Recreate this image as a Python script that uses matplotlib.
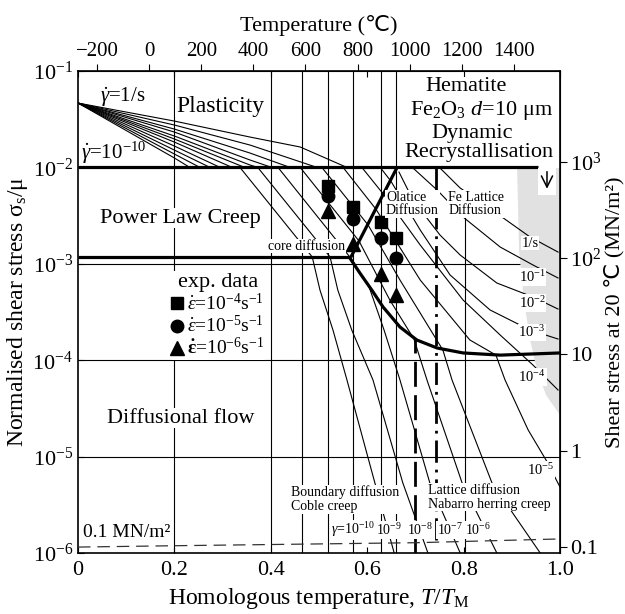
import numpy as np
import matplotlib.pyplot as plt
from matplotlib.lines import Line2D
from matplotlib.patches import Polygon, Rectangle
from matplotlib.ticker import NullLocator

plt.rcParams['font.family'] = ['Liberation Serif', 'DejaVu Sans', 'Noto Sans CJK SC']
plt.rcParams['mathtext.fontset'] = 'custom'
plt.rcParams['mathtext.rm'] = 'Liberation Serif'
plt.rcParams['mathtext.it'] = 'Liberation Serif:italic'
plt.rcParams['mathtext.bf'] = 'Liberation Serif:bold'

T_MELT = 1850.0   # K
MU_20C = 8.7e4    # MN/m^2, shear modulus at 20 C (right axis)

# ---- strain-rate contours: x = T/TM, values = log10(sigma_s/mu) ----
# plasticity fan, gamma_dot = 1e-10 ... 1/s (bottom to top)
fan_start = (0.0, -1.332)
fan_mid_x = 0.2
fan_mid_log = [-1.902, -1.861, -1.820, -1.778, -1.737, -1.705, -1.674, -1.633, -1.602, -1.560, -1.519]
fan_x2 = 0.357
fan_x2_log = [None, None, None, None, None, None, -1.975, -1.923, -1.851, -1.768, -1.685]
fan_x3 = 0.461
fan_x3_log = [None] * 10 + [-1.788]
fan_end_x = [0.232, 0.253, 0.274, 0.295, 0.320, 0.346, 0.373, 0.402, 0.440, 0.496, 0.558]

# power law creep / diffusional flow part of each contour
rate_x = {
    '1e-10': [0.336, 0.486, 0.502, 0.529, 0.558, 0.616, 0.656],
    '1e-9': [0.373, 0.523, 0.539, 0.568, 0.612, 0.674, 0.726],
    '1e-8': [0.415, 0.564, 0.604, 0.635, 0.668, 0.730, 0.793],
    '1e-7': [0.461, 0.583, 0.647, 0.697, 0.724, 0.797, 0.869],
    '1e-6': [0.506, 0.602, 0.668, 0.757, 0.776, 0.859, 0.959],
    '1e-5': [0.550, 0.618, 0.710, 0.813, 0.867, 0.886, 0.934, 0.971, 1.0],
    '1e-4': [0.589, 0.635, 0.710, 0.799, 0.876, 0.944, 0.996],
    '1e-3': [0.627, 0.649, 0.710, 0.772, 0.855, 0.938, 0.996],
    '1e-2': [0.666, 0.695, 0.751, 0.793, 0.869, 0.944, 0.996],
    '1e-1': [0.695, 0.745, 0.799, 0.876, 0.944, 0.996],
    '1': [0.751, 0.793, 0.865, 0.938, 0.996],
}
rate_log = {
    '1e-10': [-2.0, -2.929, -3.272, -3.687, -4.205, -5.274, -6.0],
    '1e-9': [-2.0, -2.929, -3.272, -3.687, -4.205, -5.274, -6.0],
    '1e-8': [-2.0, -2.929, -3.241, -3.687, -4.205, -5.274, -6.0],
    '1e-7': [-2.0, -2.763, -3.376, -3.780, -4.205, -5.274, -6.0],
    '1e-6': [-2.0, -2.598, -3.168, -3.894, -4.205, -5.274, -6.0],
    '1e-5': [-2.0, -2.432, -3.168, -3.790, -3.946, -4.205, -4.724, -5.035, -5.315],
    '1e-4': [-2.0, -2.286, -2.805, -3.376, -3.739, -4.050, -4.309],
    '1e-3': [-2.0, -2.141, -2.649, -3.116, -3.479, -3.687, -3.780],
    '1e-2': [-2.048, -2.338, -2.701, -2.909, -3.199, -3.344, -3.469],
    '1e-1': [-2.006, -2.234, -2.515, -2.826, -3.012, -3.147],
    '1': [-2.006, -2.214, -2.463, -2.722, -2.878],
}
right_labels = ['1/s', '10$^{-1}$', '10$^{-2}$', '10$^{-3}$', '10$^{-4}$', '10$^{-5}$']
right_label_pos = [(0.938, 0.643), (0.942, 0.573), (0.942, 0.519),
                   (0.942, 0.458), (0.942, 0.365), (0.959, 0.172)]
bottom_labels = [r'$\gamma$=10$^{-10}$', '10$^{-9}$', '10$^{-8}$', '10$^{-7}$', '10$^{-6}$']
bottom_label_x = [0.571, 0.645, 0.710, 0.772, 0.830]

# field boundaries
plast_level = 1e-2
plast_end = 0.954
core_level = 1.17e-3
kink_x = 0.566
diag_x = [0.566, 0.662]
diag_y = [1.17e-3, 1e-2]
diff_x = [0.564, 0.585, 0.610, 0.633, 0.668, 0.703, 0.745, 0.799, 0.876, 1.0]
diff_y = [1.15e-3, 8.0e-4, 5.3e-4, 3.56e-4, 2.21e-4, 1.62e-4, 1.34e-4, 1.19e-4, 1.13e-4, 1.19e-4]
coble_nh_x = 0.700
coble_nh_top = 1.62e-4
fe_o_x = 0.743
fe_o_bottom = 1.36e-6

# 0.1 MN/m^2 line
low_x = [0.0, 0.197, 0.703, 1.0]
low_y = [1.153e-6, 1.19e-6, 1.28e-6, 1.40e-6]

# shaded dynamic recrystallisation band
dyn_x = [0.911, 0.915, 0.925, 0.938, 0.952, 0.971, 1.0, 1.0]
dyn_y = [9.86e-3, 1.39e-3, 4.21e-4, 1.62e-4, 7.91e-5, 4.35e-5, 2.70e-5, 9.86e-3]

# grid
vlines_full = [0.2, 0.4, 0.465, 0.519, 0.571, 0.629, 0.660]
vline_part = (0.803, 3.05e-3)
hlines = [1e-3, 1e-4, 1e-5]

# experimental data
exp_x = [0.519, 0.571, 0.629, 0.660]
exp_sq = [6.41e-3, 3.88e-3, 2.72e-3, 1.85e-3]
exp_ci = [5.05e-3, 2.92e-3, 1.85e-3, 1.15e-3]
exp_tr = [3.53e-3, 1.60e-3, 7.83e-4, 4.74e-4]

fig = plt.figure(figsize=(6.25, 6.14), dpi=100)
ax = fig.add_axes([0.1248, 0.0993, 0.7712, 0.785])
ax.set_yscale('log')
ax.set_xlim(0, 1)
ax.set_ylim(1e-6, 1e-1)

thin = dict(color='black', lw=0.8)
for x in vlines_full:
    ax.axvline(x, zorder=1, **thin)
ax.plot([vline_part[0]] * 2, [1e-6, vline_part[1]], zorder=1, **thin)
for y in hlines:
    ax.axhline(y, zorder=1, **thin)

ax.add_patch(Polygon(np.column_stack([dyn_x, dyn_y]), closed=True,
                     facecolor='#e1e1e1', edgecolor='none', zorder=1.5))

# contours
for k in range(len(fan_end_x)):
    xs = [fan_start[0], fan_mid_x]
    ls = [fan_start[1], fan_mid_log[k]]
    if fan_x2_log[k] is not None:
        xs.append(fan_x2)
        ls.append(fan_x2_log[k])
    if fan_x3_log[k] is not None:
        xs.append(fan_x3)
        ls.append(fan_x3_log[k])
    xs.append(fan_end_x[k])
    ls.append(-2.0)
    ax.plot(xs, 10.0 ** np.array(ls), zorder=2, **thin)
for key in rate_x:
    ax.plot(rate_x[key], 10.0 ** np.array(rate_log[key]), zorder=2, **thin)

# boundaries
thick = dict(color='black', lw=2.3, solid_capstyle='butt')
ax.plot([0, plast_end], [plast_level] * 2, zorder=3, **thick)
ax.plot([0, kink_x], [core_level] * 2, zorder=3, **thick)
ax.plot(diag_x, diag_y, zorder=3, **thick)
ax.plot(diff_x, diff_y, zorder=3, **thick)
ax.plot([coble_nh_x] * 2, [1e-6, coble_nh_top], color='black', lw=2.0,
        dashes=(9, 3), zorder=3)
ax.plot([fe_o_x] * 2, [fe_o_bottom, plast_level], color='black', lw=2.0,
        dashes=(8, 2.5, 1, 2.5), zorder=3)
ax.plot(low_x, low_y, color='#333333', lw=0.9, dashes=(10, 5.5), zorder=3)

# experimental points
mk = dict(color='black', ls='none', zorder=4)
ax.plot(exp_x, exp_sq, marker='s', ms=8, **mk)
ax.plot(exp_x, exp_ci, marker='o', ms=9, **mk)
ax.plot(exp_x, exp_tr, marker='^', ms=10, **mk)

handles = [Line2D([], [], marker='s', ms=8, **mk),
           Line2D([], [], marker='o', ms=9, **mk),
           Line2D([], [], marker='^', ms=10, **mk)]
labels = [r'$\dot{\varepsilon}$=10$^{-4}$s$^{-1}$',
          r'$\dot{\varepsilon}$=10$^{-5}$s$^{-1}$',
          r'$\mathbf{\dot{\varepsilon}}$=10$^{-6}$s$^{-1}$']
leg = ax.legend(handles, labels, title='exp. data', loc='upper left',
                bbox_to_anchor=(0.19, 0.585), frameon=True, fontsize=14,
                title_fontsize=16, handlelength=0.6, handletextpad=0.2,
                borderpad=0.1, labelspacing=0.05, borderaxespad=0)
leg.get_frame().set_facecolor('white')
leg.get_frame().set_edgecolor('none')
leg.get_frame().set_alpha(1)
leg.set_zorder(5)

# texts
wb = dict(facecolor='white', edgecolor='none', pad=0.5)
def label(x, y, s, size, ha='center', box=True, **kw):
    ax.text(x, y, s, transform=ax.transAxes, ha=ha, va='center', fontsize=size,
            bbox=wb if box else None, zorder=6, **kw)

label(0.093, 0.946, r'$\dot{\gamma}$=1/s', 15, box=False)
label(0.073, 0.830, r'$\dot{\gamma}$=10$^{-10}$', 15, box=False)
label(0.295, 0.927, 'Plasticity', 17)
label(0.212, 0.695, 'Power Law Creep', 16)
label(0.475, 0.637, 'core diffusion', 10)
label(0.214, 0.280, 'Diffusional flow', 16)
label(0.010, 0.043, '0.1 MN/m²', 14, ha='left', box=False)
label(0.442, 0.111, 'Boundary diffusion\nCoble creep', 10, ha='left', linespacing=1.1)
label(0.726, 0.116, 'Lattice diffusion\nNabarro herring creep', 10, ha='left', linespacing=1.1)
for fx, s in zip(bottom_label_x, bottom_labels):
    label(fx, 0.048, s, 10)
label(0.805, 0.967, 'Hematite', 16)
label(0.838, 0.919, r'Fe$_2$O$_3$ $d$=10 μm', 16)
label(0.817, 0.871, 'Dynamic', 16)
label(0.832, 0.830, 'Recrystallisation', 16)
label(0.639, 0.724, 'Olatice\nDiffusion', 10, ha='left', linespacing=1.0)
label(0.768, 0.724, 'Fe Lattice\nDiffusion', 10, ha='left', linespacing=1.0)
for (fx, fy), s in zip(right_label_pos, right_labels):
    label(fx, fy, s, 10.5)

ax.add_patch(Rectangle((0.955, 0.742), 0.036, 0.056, transform=ax.transAxes,
                       facecolor='white', edgecolor='none', zorder=5))
ax.annotate('', xy=(0.973, 0.750), xytext=(0.973, 0.797), xycoords='axes fraction',
            arrowprops=dict(arrowstyle='->', lw=1.1, color='black',
                            mutation_scale=20), zorder=6)

# axes and scales
for sp in ax.spines.values():
    sp.set_linewidth(1.2)
ax.set_xticks([0, 0.2, 0.4, 0.6, 0.8, 1.0])
ax.set_xticklabels(['0', '0.2', '0.4', '0.6', '0.8', '1.0'])
ax.tick_params(axis='x', direction='in', length=4, labelsize=16, top=True, pad=6)
ax.tick_params(axis='y', direction='in', length=4, labelsize=16, which='major')
ax.yaxis.set_minor_locator(NullLocator())
ax.set_xlabel('Homologous temperature, $T/T_{\\rm M}$', fontsize=17, labelpad=4)
ax.set_ylabel('Normalised shear stress σ$_{\\rm s}$/μ', fontsize=17, labelpad=2)

top = ax.secondary_xaxis('top', functions=(lambda h: h * T_MELT - 273.15,
                                           lambda c: (c + 273.15) / T_MELT))
top.set_xticks([-200, 0, 200, 400, 600, 800, 1000, 1200, 1400])
top.tick_params(direction='out', length=5, labelsize=15, pad=2)
top.set_xlabel('Temperature (℃)', fontsize=16, labelpad=8)

right = ax.secondary_yaxis('right', functions=(lambda s: s * MU_20C,
                                               lambda m: m / MU_20C))
right.set_yticks([0.1, 1, 10, 100, 1000])
right.set_yticklabels(['0.1', '1', '10', '10$^2$', '10$^3$'])
right.yaxis.set_minor_locator(NullLocator())
right.tick_params(direction='out', length=5, labelsize=16, pad=2)
right.set_ylabel('Shear stress at 20 ℃ (MN/m²)', fontsize=16, labelpad=2)

fig.savefig('out.png', dpi=100)
